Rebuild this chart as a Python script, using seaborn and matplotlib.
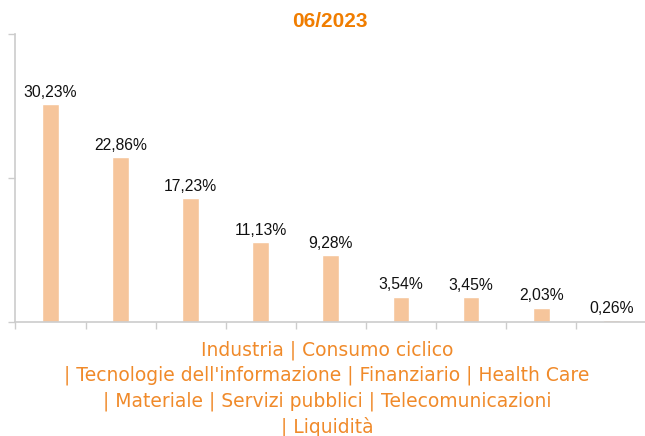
import pandas as pd
import matplotlib.pyplot as plt
import seaborn as sns

sectors = ['Industria', 'Consumo ciclico', "Tecnologie dell'informazione", 'Finanziario',
           'Health Care', 'Materiale', 'Servizi pubblici', 'Telecomunicazioni', 'Liquidità']
weights = [30.23, 22.86, 17.23, 11.13, 9.28, 3.54, 3.45, 2.03, 0.26]
title = '06/2023'

df = pd.DataFrame({'sector': sectors, 'weight': weights})

sns.set_style('white')
fig = plt.figure(figsize=(6.45, 4.36), dpi=100)
ax = fig.add_axes([0.024, 0.261, 0.978, 0.661])

sns.barplot(data=df, x='sector', y='weight', color='#F6C59B', saturation=1, width=0.24, ax=ax)

# data labels with comma decimal
for i, v in enumerate(weights):
    ax.text(i, v + 0.6, f'{v:.2f}%'.replace('.', ','), ha='center', va='bottom',
            fontsize=11.3, family='Liberation Sans', color='#111111')

ax.set_ylim(0, 40)
ax.set_xlim(-0.5, len(sectors) - 0.5)
ax.set_yticks([0, 20, 40])
ax.set_yticklabels([])
ax.set_xticks([i - 0.5 for i in range(len(sectors))])
ax.set_xticklabels([])
ax.tick_params(axis='both', length=5, width=1, color='#CCCCCC', direction='out',
               bottom=True, left=True)
for side in ['top', 'right']:
    ax.spines[side].set_visible(False)
for side in ['left', 'bottom']:
    ax.spines[side].set_color('#CCCCCC')
    ax.spines[side].set_linewidth(1.2)
ax.set_xlabel('')
ax.set_ylabel('')

# category list as an orange caption under the axis
lines = ['Industria | Consumo ciclico',
         "| Tecnologie dell'informazione | Finanziario | Health Care",
         '| Materiale | Servizi pubblici | Telecomunicazioni',
         '| Liquidità']
fig.text(0.507, 0.108, '\n'.join(lines), ha='center', va='center', color='#F08A2A',
         fontsize=13.5, linespacing=1.38, family='DejaVu Sans')

fig.text(0.512, 0.95, title, ha='center', va='center', fontsize=15, fontweight='bold',
         family='Liberation Sans', color='#F07D00')

fig.savefig('out.png', dpi=100)
